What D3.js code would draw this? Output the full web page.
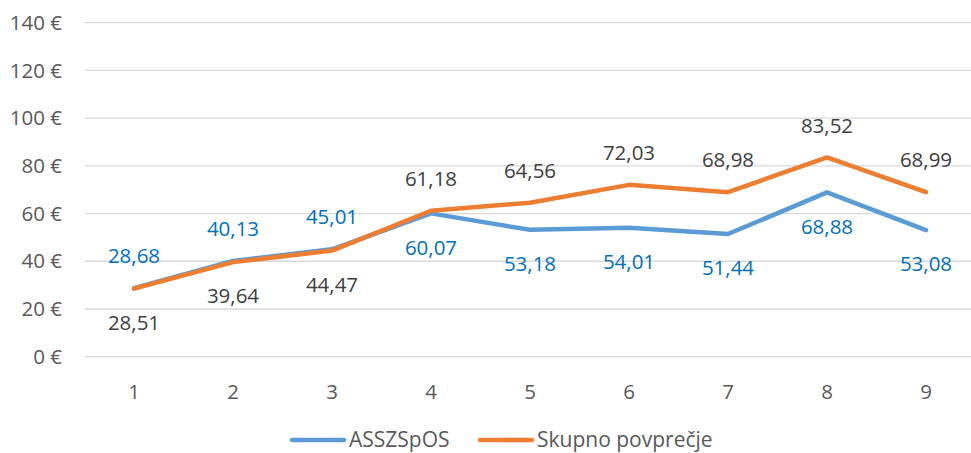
<!DOCTYPE html>
<html>
<head>
<meta charset="utf-8">
<script src="https://cdn.jsdelivr.net/npm/d3@7"></script>
<style>
  body { margin: 0; background: #fff; }
  text { font-family: "Open Sans", "Noto Sans", sans-serif; }
</style>
</head>
<body>
<svg id="chart"></svg>
<script>
// data
var categories = ['1', '2', '3', '4', '5', '6', '7', '8', '9'];
var asszspos = [28.68, 40.13, 45.01, 60.07, 53.18, 54.01, 51.44, 68.88, 53.08];
var skupno = [28.51, 39.64, 44.47, 61.18, 64.56, 72.03, 68.98, 83.52, 68.99];
var yTicks = [0, 20, 40, 60, 80, 100, 120, 140];
// label placement: true = above the point
var asszAbove = [true, true, true, false, false, false, false, false, false];
var skupAbove = [false, false, false, true, true, true, true, true, true];

var WIDTH = 971, HEIGHT = 453;
var BLUE = '#5B9BD5', ORANGE = '#ED7D31';
var FS = 20.5;

var svg = d3.select('#chart').attr('width', WIDTH).attr('height', HEIGHT);

var x = d3.scalePoint().domain(categories).range([134, 926]);
var y = d3.scaleLinear().domain([0, 140]).range([356.7, 22.7]);

// gridlines
svg.append('g').selectAll('line').data(yTicks).enter().append('line')
  .attr('x1', 85).attr('x2', WIDTH)
  .attr('y1', function (d) { return y(d); })
  .attr('y2', function (d) { return y(d); })
  .attr('stroke', '#d9d9d9').attr('stroke-width', 1.3);

var fmtEur = function (d) { return d + ' €'; };
var fmtVal = function (d) { return d3.format('.2f')(d).replace('.', ','); };

// y axis labels
svg.append('g').selectAll('text').data(yTicks).enter().append('text')
  .attr('x', 62).attr('y', function (d) { return y(d); })
  .attr('dy', '0.35em').attr('text-anchor', 'end')
  .attr('font-size', FS).attr('fill', '#595959')
  .text(fmtEur);

// x axis labels
svg.append('g').selectAll('text').data(categories).enter().append('text')
  .attr('x', function (d) { return x(d); }).attr('y', 392)
  .attr('dy', '0.35em').attr('text-anchor', 'middle')
  .attr('font-size', FS).attr('fill', '#595959')
  .text(function (d) { return d; });

var line = d3.line()
  .x(function (d, i) { return x(categories[i]); })
  .y(function (d) { return y(d); });

svg.append('path').datum(asszspos).attr('d', line)
  .attr('fill', 'none').attr('stroke', BLUE).attr('stroke-width', 4.5)
  .attr('stroke-linejoin', 'round').attr('stroke-linecap', 'round');
svg.append('path').datum(skupno).attr('d', line)
  .attr('fill', 'none').attr('stroke', ORANGE).attr('stroke-width', 4.5)
  .attr('stroke-linejoin', 'round').attr('stroke-linecap', 'round');

function addLabels(vals, above, color) {
  svg.append('g').selectAll('text').data(vals).enter().append('text')
    .attr('x', function (d, i) { return x(categories[i]); })
    .attr('y', function (d, i) { return y(d) + (above[i] ? -32 : 34); })
    .attr('dy', '0.35em').attr('text-anchor', 'middle')
    .attr('font-size', FS).attr('fill', color)
    .text(fmtVal);
}
addLabels(asszspos, asszAbove, '#0070C0');
addLabels(skupno, skupAbove, '#404040');

// legend
var legend = [
  { name: 'ASSZSpOS', color: BLUE, x: 290 },
  { name: 'Skupno povprečje', color: ORANGE, x: 478 }
];
var lg = svg.append('g').selectAll('g').data(legend).enter().append('g');
lg.append('line')
  .attr('x1', function (d) { return d.x + 2; }).attr('x2', function (d) { return d.x + 54; })
  .attr('y1', 440).attr('y2', 440)
  .attr('stroke', function (d) { return d.color; }).attr('stroke-width', 4.5)
  .attr('stroke-linecap', 'round');
lg.append('text')
  .attr('x', function (d) { return d.x + 59; }).attr('y', 440)
  .attr('dy', '0.35em').attr('font-size', 21).attr('fill', '#595959')
  .text(function (d) { return d.name; });
</script>
</body>
</html>
